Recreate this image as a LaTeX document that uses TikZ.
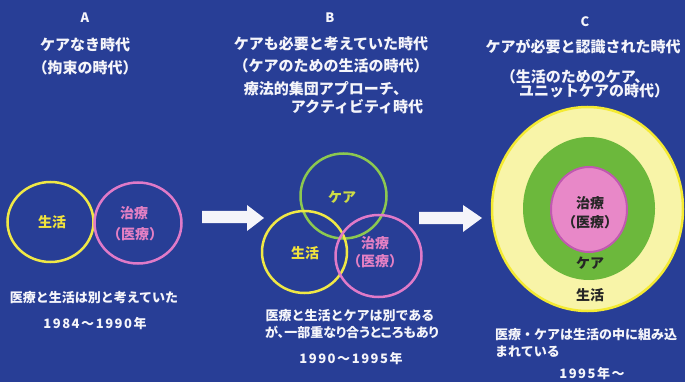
\documentclass[tikz,border=0pt]{standalone}
\usepackage{fontspec}
\setmainfont{Noto Sans CJK JP}
\usetikzlibrary{shapes.geometric}
\definecolor{bgblue}{RGB}{40,62,150}
\definecolor{ringyellow}{RGB}{240,232,70}
\definecolor{ringpink}{RGB}{224,122,200}
\definecolor{ringgreen}{RGB}{140,200,80}
\definecolor{labyellow}{RGB}{240,226,60}
\definecolor{labpink}{RGB}{228,128,196}
\definecolor{labgreen}{RGB}{205,220,70}
\definecolor{paleyellow}{RGB}{248,244,168}
\definecolor{edgeyellow}{RGB}{244,234,50}
\definecolor{fillgreen}{RGB}{108,184,60}
\definecolor{fillpink}{RGB}{232,136,200}
\definecolor{edgepink}{RGB}{192,88,176}
\definecolor{txtwhite}{RGB}{245,245,250}
\begin{document}
\begin{tikzpicture}[x=1pt,y=-1pt,
  head/.style={text=txtwhite,inner sep=0pt,font=\fontsize{15}{18}\selectfont\bfseries},
  letter/.style={text=txtwhite,inner sep=0pt,font=\fontsize{13}{15}\selectfont\bfseries},
  body/.style={text=txtwhite,inner sep=0pt,font=\fontsize{13}{16}\selectfont\bfseries},
  year/.style={text=txtwhite,inner sep=0pt,font=\fontsize{13}{16}\selectfont\bfseries\addfontfeature{LetterSpace=12}},
  ring/.style={ellipse,inner sep=0pt,line width=2.5pt},
  lab/.style={inner sep=0pt,font=\fontsize{14}{20}\selectfont\bfseries,align=center},
  blockarrow/.style={fill=txtwhite,draw=none}
]
\fill[bgblue] (0,0) rectangle (685,382);
\useasboundingbox (0,0) rectangle (685,382);

% ---------- column A ----------
\node[letter] (Aletter) at (85,18) {A};
\node[head] (Ah1) at (85,45) {ケアなき時代};
\node[head] (Ah2) at (85,68) {（拘束の時代）};
\node[ring,draw=ringyellow,minimum width=86pt,minimum height=80pt] (Alife) at (50.5,222) {};
\node[ring,draw=ringpink,minimum width=87pt,minimum height=81pt] (Amed) at (138,223) {};
\node[lab,text=labyellow] (AlifeL) at (52,222) {生活};
\node[lab,text=labpink] (AmedL1) at (134,213) {治療};
\node[lab,text=labpink] (AmedL2) at (135,234) {（医療）};
\node[body] (Ab1) at (94,298) {医療と生活は別と考えていた};
\node[year] (Ay) at (95,324) {1984～1990年};

% ---------- arrows ----------
\path[blockarrow] (202,211) -- (247,211) -- (247,205) -- (264,218) -- (247,231) -- (247,223) -- (202,223) -- cycle;
\path[blockarrow] (419,212) -- (463,212) -- (463,205) -- (482,218) -- (463,232) -- (463,224) -- (419,224) -- cycle;

% ---------- column B ----------
\node[letter] (Bletter) at (330,18) {B};
\node[head] (Bh1) at (331,44) {ケアも必要と考えていた時代};
\node[head] (Bh2) at (331,66) {（ケアのための生活の時代）};
\node[head] (Bh3) at (326,89) {療法的集団アプローチ、};
\node[head] (Bh4) at (357,107) {アクティビティ時代};
\node[ring,draw=ringgreen,minimum width=86pt,minimum height=85pt] (Bcare) at (343.5,196) {};
\node[ring,draw=ringyellow,minimum width=85pt,minimum height=82pt] (Blife) at (304.5,252) {};
\node[ring,draw=ringpink,minimum width=86pt,minimum height=82pt] (Bmed) at (378.5,256) {};
\node[lab,text=labgreen] (BcareL) at (342,197) {ケア};
\node[lab,text=labyellow] (BlifeL) at (305,253) {生活};
\node[lab,text=labpink] (BmedL1) at (375,243) {治療};
\node[lab,text=labpink] (BmedL2) at (375,261) {（医療）};
\node[body] (Bb1) at (350,316) {医療と生活とケアは別である};
\node[body,font=\fontsize{13}{16}\selectfont\bfseries\addfontfeature{RawFeature=+palt}] (Bb2) at (352,332) {が、一部重なり合うところもあり};
\node[year] (By) at (351,359) {1990～1995年};

% ---------- column C ----------
\node[letter] (Cletter) at (585,22) {C};
\node[head] (Ch1) at (583,47) {ケアが必要と認識された時代};
\node[head] (Ch2) at (575,77) {（生活のためのケア、};
\node[head] (Ch3) at (594,91) {ユニットケアの時代）};
\node[ellipse,inner sep=0pt,fill=paleyellow,draw=edgeyellow,line width=2.5pt,minimum width=191pt,minimum height=204pt] (Clife) at (587.5,209) {};
\node[ellipse,inner sep=0pt,fill=fillgreen,minimum width=132pt,minimum height=143pt] (Ccare) at (589,208.5) {};
\node[ellipse,inner sep=0pt,fill=fillpink,draw=edgepink,line width=2pt,minimum width=76pt,minimum height=85pt] (Cmed) at (589,209.5) {};
\node[lab,text=black!85] (CmedL1) at (590,203) {治療};
\node[lab,text=black!85] (CmedL2) at (590,222) {（医療）};
\node[lab,text=black!85] (CcareL) at (590,263) {ケア};
\node[lab,text=black!85] (ClifeL) at (590,295) {生活};
\node[body,anchor=west] (Cb1) at (495,335) {医療・ケアは生活の中に組み込};
\node[body,anchor=west] (Cb2) at (495,352) {まれている};
\node[year] (Cy) at (592,374) {1995年～};
\end{tikzpicture}
\end{document}
